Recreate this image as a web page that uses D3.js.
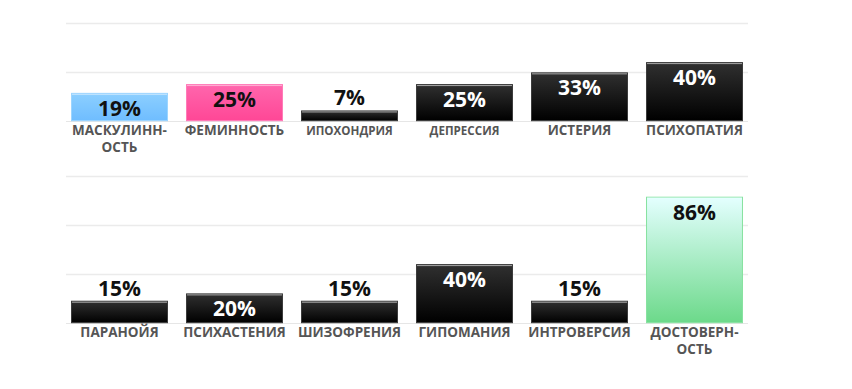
<!DOCTYPE html>
<html>
<head>
<meta charset="utf-8">
<script src="https://cdn.jsdelivr.net/npm/d3@7"></script>
<style>
  body { margin: 0; background: #fff; }
  svg { display: block; }
  text { font-family: "Open Sans", "Noto Sans", sans-serif; font-weight: bold; }
</style>
</head>
<body>
<div id="chart"></div>
<script>
// MMPI scales, two rows
const topCategories = ["МАСКУЛИННОСТЬ", "ФЕМИННОСТЬ", "ИПОХОНДРИЯ", "ДЕПРЕССИЯ", "ИСТЕРИЯ", "ПСИХОПАТИЯ"];
const topLabels = [["МАСКУЛИНН-", "ОСТЬ"], ["ФЕМИННОСТЬ"], ["ИПОХОНДРИЯ"], ["ДЕПРЕССИЯ"], ["ИСТЕРИЯ"], ["ПСИХОПАТИЯ"]];
const topValues = [19, 25, 7, 25, 33, 40];

const bottomCategories = ["ПАРАНОЙЯ", "ПСИХАСТЕНИЯ", "ШИЗОФРЕНИЯ", "ГИПОМАНИЯ", "ИНТРОВЕРСИЯ", "ДОСТОВЕРНОСТЬ"];
const bottomLabels = [["ПАРАНОЙЯ"], ["ПСИХАСТЕНИЯ"], ["ШИЗОФРЕНИЯ"], ["ГИПОМАНИЯ"], ["ИНТРОВЕРСИЯ"], ["ДОСТОВЕРН-", "ОСТЬ"]];
const bottomValues = [15, 20, 15, 40, 15, 86];

const gridTicks = [0, 100 / 3, 200 / 3, 100];

// styling
const width = 852, height = 389;
const barColors = {
    "МАСКУЛИННОСТЬ": "blue",
    "ФЕМИННОСТЬ": "pink",
    "ДОСТОВЕРНОСТЬ": "green"
};
const smallLabel = { "ИПОХОНДРИЯ": 11.6, "ДЕПРЕССИЯ": 11.6 };
const styles = {
    black: { top: "#303030", bottom: "#000000", stroke: "#3a3a3a", hi: "#a8a8a8", text: "#ffffff" },
    blue:  { top: "#8ccfff", bottom: "#6fbdff", stroke: "#9bd4ff", hi: "#c4e6ff", text: "#111111" },
    pink:  { top: "#ff66ad", bottom: "#ff4796", stroke: "#ff7ab8", hi: "#ffb0d4", text: "#111111" },
    green: { top: "#e4ffff", bottom: "#6cd98a", stroke: "#86e29f", hi: "#e4ffff", text: "#111111" }
};

const svg = d3.select("#chart").append("svg")
    .attr("width", width)
    .attr("height", height);

const defs = svg.append("defs");
Object.entries(styles).forEach(([name, s]) => {
    const g = defs.append("linearGradient")
        .attr("id", "grad-" + name)
        .attr("x1", 0).attr("y1", 0).attr("x2", 0).attr("y2", 1);
    g.append("stop").attr("offset", "0%").attr("stop-color", s.top);
    g.append("stop").attr("offset", "100%").attr("stop-color", s.bottom);
});

const x = d3.scaleBand()
    .domain(d3.range(6))
    .range([62, 752])
    .paddingInner(0.157)
    .paddingOuter(0.0785);

function DrawRow(categories, labels, values, baseY) {
    const y = d3.scaleLinear()
        .domain([0, 100])
        .range([baseY, baseY - 146.5]);

    const row = svg.append("g");

    // grid lines
    row.append("g")
        .selectAll("line")
        .data(gridTicks)
        .enter()
        .append("line")
            .attr("x1", 66)
            .attr("x2", 748)
            .attr("y1", d => Math.round(y(d)) + 0.5)
            .attr("y2", d => Math.round(y(d)) + 0.5)
            .attr("stroke", (d, i) => i === 0 ? "#e6e6e6" : "#ebebeb")
            .attr("stroke-width", (d, i) => i === 0 ? 1 : 1.6);

    const bars = row.append("g")
        .selectAll("g")
        .data(values.map((v, i) => ({ v, i, cat: categories[i], lines: labels[i] })))
        .enter()
        .append("g");

    bars.each(function (d) {
        const g = d3.select(this);
        const name = barColors[d.cat] || "black";
        const s = styles[name];
        const x0 = x(d.i), w = x.bandwidth();
        const top = y(d.v), h = baseY - top;

        g.append("rect")
            .attr("x", x0 + 0.5)
            .attr("y", top + 0.5)
            .attr("width", w - 1)
            .attr("height", h - 0.5)
            .attr("fill", `url(#grad-${name})`)
            .attr("stroke", s.stroke)
            .attr("stroke-width", 1);

        g.append("line")
            .attr("x1", x0 + 1)
            .attr("x2", x0 + w - 1)
            .attr("y1", top + 1.5)
            .attr("y2", top + 1.5)
            .attr("stroke", s.hi)
            .attr("stroke-width", 1);

        // value label: inside if it fits, else above
        const inside = h >= 25;
        g.append("text")
            .attr("x", x0 + w / 2)
            .attr("y", inside ? top + 23 : top - 5)
            .attr("text-anchor", "middle")
            .attr("font-size", 21)
            .attr("fill", inside ? s.text : "#111")
            .text(d.v + "%");

        // category label
        const t = g.append("text")
            .attr("x", x0 + w / 2)
            .attr("y", baseY + 14.3)
            .attr("text-anchor", "middle")
            .attr("font-size", smallLabel[d.cat] || 13.5)
            .attr("fill", "#555");
        d.lines.forEach((line, k) => {
            t.append("tspan")
                .attr("x", x0 + w / 2)
                .attr("dy", k === 0 ? 0 : 16.8)
                .text(line);
        });
    });
}

DrawRow(topCategories, topLabels, topValues, 120.7);
DrawRow(bottomCategories, bottomLabels, bottomValues, 322.7);
</script>
</body>
</html>
